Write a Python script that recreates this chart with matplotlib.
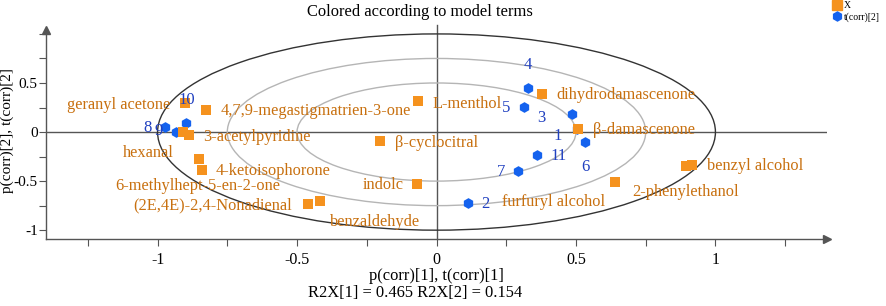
import matplotlib
matplotlib.use("Agg")
import matplotlib.pyplot as plt
from matplotlib.patches import Ellipse
from matplotlib.lines import Line2D
from matplotlib.ticker import MultipleLocator

plt.rcParams['font.family'] = ['Liberation Serif', 'DejaVu Serif']
plt.rcParams['axes.unicode_minus'] = False

# ---- data ----
var_names = ["geranyl acetone", "4,7,9-megastigmatrien-3-one", "hexanal", "3-acetylpyridine",
             "6-methylhept-5-en-2-one", "4-ketoisophorone", "(2E,4E)-2,4-Nonadienal", "benzaldehyde",
             "indolc", "β-cyclocitral", "L-menthol", "dihydrodamascenone", "β-damascenone",
             "benzyl alcohol", "furfuryl alcohol", "2-phenylethanol"]
var_p1 = [-0.903, -0.826, -0.909, -0.886, -0.852, -0.841, -0.459, -0.416,
          -0.069, -0.202, -0.067, 0.380, 0.507, 0.917, 0.895, 0.639]
var_p2 = [0.300, 0.224, 0.000, -0.030, -0.279, -0.391, -0.735, -0.707,
          -0.534, -0.092, 0.316, 0.388, 0.027, -0.333, -0.347, -0.507]

score_names = ["1", "2", "3", "4", "5", "6", "7", "8", "9", "10", "11"]
score_t1 = [0.505, 0.114, 0.486, 0.327, 0.314, 0.534, 0.293, -0.974, -0.933, -0.897, 0.362]
score_t2 = [0.030, -0.728, 0.180, 0.452, 0.258, -0.105, -0.395, 0.054, -0.003, 0.095, -0.235]

ellipse_radii = [1.0, 0.75, 0.5]
x_ticks = [-1, -0.5, 0, 0.5, 1]
y_ticks = [-1, -0.5, 0, 0.5]

# label placement (data coords) and alignment
var_lab_x = [-0.953, -0.775, -1.125, -0.835, -1.150, -0.792, -1.086, -0.381,
             -0.263, -0.148, -0.013, 0.428, 0.560, 0.968, 0.234, 0.703]
var_lab_y = [0.276, 0.214, -0.214, -0.051, -0.545, -0.396, -0.745, -0.918,
             -0.541, -0.112, 0.286, 0.378, 0.020, -0.347, -0.714, -0.612]
var_lab_ha = ["right"] + ["left"] * 15

score_lab_x = [0.435, 0.174, 0.377, 0.327, 0.249, 0.535, 0.231, -1.036, -0.996, -0.896, 0.438]
score_lab_y = [-0.041, -0.735, 0.143, 0.684, 0.245, -0.357, -0.408, 0.041, 0.010, 0.327, -0.245]

ORANGE = "#F5921E"
ORANGE_TXT = "#C8700F"
BLUE = "#1462EE"
BLUE_TXT = "#2040C0"
AXC = "#555555"

W, H = 886, 306
fig = plt.figure(figsize=(W / 100, H / 100), dpi=100)
ax = fig.add_axes([46 / W, (H - 239) / H, 781 / W, 209 / H])
ax.set_xlim(-1.4, 1.4)
ax.set_ylim(-1.09, 1.04)
ax.patch.set_alpha(0)

for s in ["top", "right"]:
    ax.spines[s].set_visible(False)
for s in ["left", "bottom"]:
    ax.spines[s].set_color(AXC)
    ax.spines[s].set_linewidth(1.0)

# arrows
ax.plot([0], [1], marker="^", color=AXC, markersize=6, transform=ax.transAxes, clip_on=False)
ax.plot([1], [0], marker=">", color=AXC, markersize=6, transform=ax.transAxes, clip_on=False)

ax.xaxis.set_minor_locator(MultipleLocator(0.25))
ax.yaxis.set_minor_locator(MultipleLocator(0.25))
ax.set_xticks(x_ticks)
ax.set_xticklabels([("%g" % v) for v in x_ticks])
ax.set_yticks(y_ticks)
ax.set_yticklabels([("%g" % v) for v in y_ticks])
ax.tick_params(axis="both", which="both", direction="out", color=AXC, width=0.8)
ax.tick_params(axis="x", which="major", length=5, pad=4, labelsize=11.5)
ax.tick_params(axis="y", which="major", length=5, pad=1, labelsize=11)
ax.tick_params(axis="both", which="minor", length=5)

# zero lines
ax.axhline(0, color=AXC, lw=1.0, zorder=1)
ax.plot([0, 0], [-1.09, 1.09], color=AXC, lw=1.0, zorder=1, clip_on=False)

# ellipses
for r in ellipse_radii:
    col = "#333333" if r == 1.0 else "#b5b5b5"
    ax.add_patch(Ellipse((0, 0), 2 * r, 2 * r, fill=False, edgecolor=col, lw=1.0, zorder=2))

# scores
ax.scatter(score_t1, score_t2, marker="h", s=60, color=BLUE, zorder=3, linewidths=0)
for name, x, y in zip(score_names, score_lab_x, score_lab_y):
    ax.text(x, y, name, color=BLUE_TXT, fontsize=12, ha="center", va="center", zorder=5)

# loadings
ax.scatter(var_p1, var_p2, marker="s", s=50, color=ORANGE, zorder=4, linewidths=0)
for name, x, y, ha in zip(var_names, var_lab_x, var_lab_y, var_lab_ha):
    ax.text(x, y, name, color=ORANGE_TXT, fontsize=11.8, ha=ha, va="center", zorder=5)

# titles / labels
fig.text(420 / W, 1 - 12 / H, "Colored according to model terms", ha="center", va="center", fontsize=11.9)
fig.text(436.5 / W, 1 - 276 / H, "p(corr)[1], t(corr)[1]", ha="center", va="center", fontsize=11.9)
fig.text(415 / W, 1 - 293 / H, "R2X[1] = 0.465 R2X[2] = 0.154", ha="center", va="center", fontsize=11.9)
fig.text(7 / W, 1 - 131 / H, "p(corr)[2], t(corr)[2]", ha="center", va="center", rotation=90, fontsize=11)

# legend
handles = [Line2D([], [], marker="s", color=ORANGE, linestyle="none", markersize=7),
           Line2D([], [], marker="h", color=BLUE, linestyle="none", markersize=6.5)]
fig.legend(handles, ["X", "t(corr)[2]"], loc="upper left", bbox_to_anchor=(832 / W, 1.0),
           frameon=False, fontsize=7, handlelength=0.8, handletextpad=0.3, borderpad=0.1,
           labelspacing=0.2, borderaxespad=0)

fig.savefig("out.png", dpi=100)
